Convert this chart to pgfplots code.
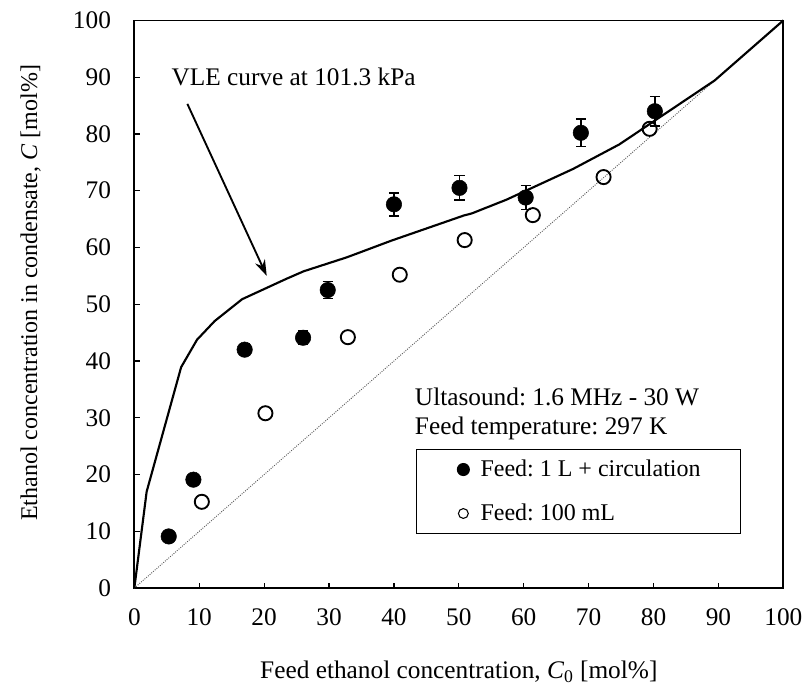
\documentclass[border=0pt]{standalone}
\usepackage{pgfplots}
\pgfplotsset{compat=1.18}
\usepackage{fontspec}
\setmainfont{Liberation Serif}
\usetikzlibrary{arrows.meta}
\frenchspacing

\pgfplotstableread{
x y e
5.3 9.1 0.4
9.1 19.1 0.5
17.0 42.0 1.0
26.0 44.1 1.2
29.8 52.5 1.5
40.0 67.6 2.0
50.1 70.5 2.2
60.3 68.8 2.1
68.8 80.2 2.4
80.2 84.0 2.6
}\filled

\pgfplotstableread{
x y
10.4 15.2
20.2 30.8
32.9 44.2
40.9 55.2
50.9 61.3
61.4 65.7
72.3 72.4
79.4 80.9
}\open

\pgfplotstableread{
x y
0 0
1.9 17.0
7.21 38.91
9.66 43.75
12.38 47.04
16.61 50.89
23.37 54.45
26.08 55.80
32.73 58.26
39.65 61.22
50.79 65.64
51.98 65.99
57.32 68.41
67.63 73.85
74.72 78.15
89.43 89.43
100 100
}\vle

\pgfplotstableread{
x y
0 0
89.43 89.43
}\diag

\begin{document}
\begin{tikzpicture}
\begin{axis}[
  scale only axis,
  width=487pt, height=426pt,
  xmin=0, xmax=100, ymin=0, ymax=100,
  xtick={0,10,...,100}, ytick={0,10,...,100},
  tick align=inside,
  xtick pos=bottom, ytick pos=left,
  major tick length=4pt,
  every tick/.style={black, line width=0.9pt},
  axis line style={line width=1.3pt},
  font=\fontsize{19}{22.8}\selectfont,
  /pgf/number format/assume math mode=true,
  xticklabel style={yshift=-12pt},
  yticklabel style={xshift=-14pt},
  xlabel={Feed ethanol concentration, \textit{C}\textsubscript{0} [mol\%]},
  ylabel={Ethanol concentration in condensate, \textit{C} [mol\%]},
  xlabel style={at={(axis description cs:0.5,0)}, anchor=base, yshift=-68pt},
  every axis y label/.style={at={(axis description cs:0,0.52)}, rotate=90, anchor=base, yshift=73pt, font=\fontsize{18}{21.6}\selectfont},
  clip=false,
  legend style={at={(rel axis cs:0.4345,0.245)}, anchor=north west,
    draw=black, line width=0.8pt, inner xsep=30pt, inner ysep=8pt,
    row sep=19pt, column sep=8pt, font=\fontsize{18}{21.6}\selectfont,
    nodes={inner sep=0pt}},
  legend cell align=left,
]
\addplot[densely dotted, gray!70!black, line width=0.7pt, forget plot] table {\diag};
\addplot[black, line width=1.6pt, forget plot] table {\vle};
\addplot[forget plot, only marks, mark=*, mark size=5.8pt, mark options={fill=black, draw=black},
  error bars/.cd, y dir=both, y explicit,
  error bar style={line width=1.3pt, black},
  error mark options={rotate=90, mark size=3.8pt, line width=1.3pt}]
  table[x=x, y=y, y error=e] {\filled};
\addplot[forget plot, only marks, mark=o, mark size=5.3pt, mark options={fill=white, draw=black, line width=1.4pt}]
  table {\open};
\addlegendimage{legend image code/.code={\fill[black] (4.5pt,0pt) circle (4.5pt);}}
\addlegendentry{Feed: 1 L + circulation}
\addlegendimage{legend image code/.code={\draw[black, line width=0.8pt] (4.5pt,0pt) circle (3.7pt);}}
\addlegendentry{Feed: 100 mL}
\draw[-{Stealth[length=12pt,width=8pt]}, line width=1.4pt] (axis cs:8.17,85.3) -- (axis cs:20.4,55.0);
\node[anchor=base west, inner sep=0pt] at (axis cs:5.7,88.5) {VLE curve at 101.3 kPa};
\node[anchor=base west, inner sep=0pt] at (axis cs:43.2,32.1) {Ultasound: 1.6 MHz - 30 W};
\node[anchor=base west, inner sep=0pt] at (axis cs:43.2,27.0) {Feed temperature: 297 K};
\coordinate (ll) at (rel axis cs:0,0);
\coordinate (ur) at (rel axis cs:1,1);
\end{axis}
\pgfresetboundingbox
\path[use as bounding box] ([shift={(-100.8pt,-75.45pt)}]ll) rectangle ([shift={(17.75pt,15.3pt)}]ur);
\end{tikzpicture}
\end{document}
